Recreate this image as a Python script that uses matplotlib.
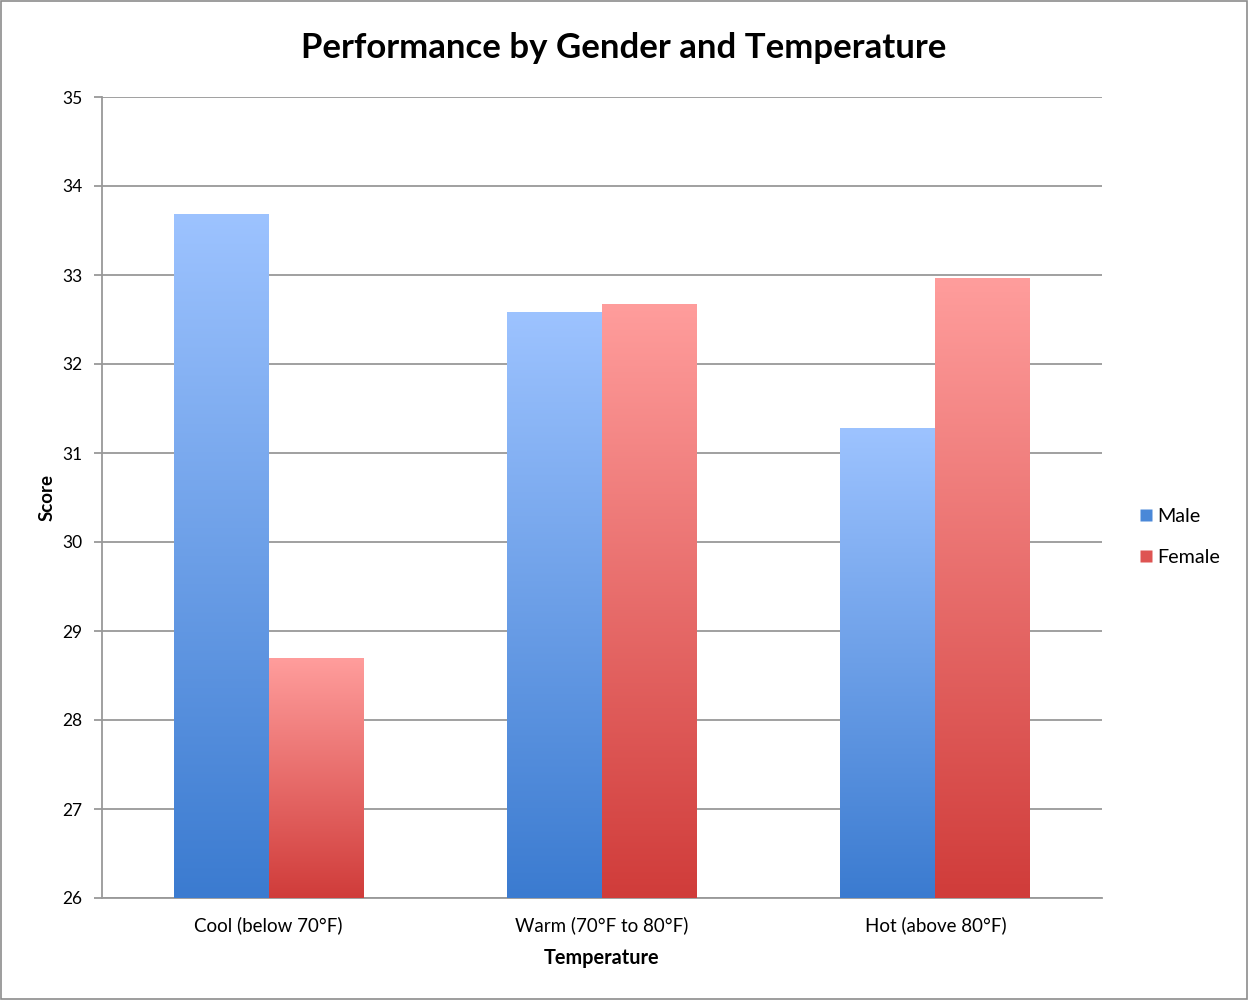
import numpy as np
import matplotlib
matplotlib.use("Agg")
import matplotlib.pyplot as plt
from matplotlib.colors import LinearSegmentedColormap
from matplotlib.patches import Rectangle

categories = ["Cool (below 70°F)", "Warm (70°F to 80°F)", "Hot (above 80°F)"]
series_names = ["Male", "Female"]
male = [33.68, 32.58, 31.28]
female = [28.69, 32.67, 32.96]
y_ticks = [26, 27, 28, 29, 30, 31, 32, 33, 34, 35]

plt.rcParams['font.family'] = ['Lato', 'DejaVu Sans']

fig = plt.figure(figsize=(12.48, 10), dpi=100)
ax = fig.add_axes([102/1248, 1 - 898/1000, 1000/1248, 801/1000])

x = np.arange(len(categories))
w = 0.285
grads = {
    "Male": ("#3b7bd0", "#9dc3ff"),
    "Female": ("#d03c3a", "#ff9d9c"),
}
legend_colors = {"Male": "#4a88d8", "Female": "#de5452"}

handles = []
for i, (name, vals) in enumerate(zip(series_names, [male, female])):
    offs = (i - 0.5) * w
    bars = ax.bar(x + offs, np.array(vals) - 26, width=w, bottom=26,
                  color="none", edgecolor="none", zorder=3)
    cmap = LinearSegmentedColormap.from_list(name, list(grads[name]))
    for b in bars:
        x0, y0 = b.get_x(), b.get_y()
        bw, bh = b.get_width(), b.get_height()
        grad = np.linspace(0, 1, 256).reshape(-1, 1)
        ax.imshow(grad, cmap=cmap, aspect="auto", origin="lower",
                  extent=[x0, x0 + bw, y0, y0 + bh], zorder=3,
                  interpolation="bicubic")
    handles.append(plt.Line2D([], [], marker="s", linestyle="none",
                              markersize=8, markerfacecolor=legend_colors[name],
                              markeredgecolor="none", label=name))

ax.set_xlim(-0.5, 2.5)
ax.set_ylim(26, 35)
ax.set_yticks(y_ticks)
ax.set_yticklabels([str(t) for t in y_ticks], fontsize=12.5)
ax.set_xticks(x)
ax.set_xticklabels(categories, fontsize=13.5)
ax.tick_params(axis="x", length=0, pad=13)
ax.tick_params(axis="y", length=6, color="#999999", width=1.3, pad=8)
ax.grid(axis="y", color="#999999", linewidth=1.3, zorder=0)
ax.set_axisbelow(True)
for s in ["top", "right"]:
    ax.spines[s].set_visible(False)
for s in ["left", "bottom"]:
    ax.spines[s].set_color("#999999")
    ax.spines[s].set_linewidth(1.3)

ax.set_xlabel("Temperature", fontsize=14.3, fontweight="bold", labelpad=10)
ax.set_ylabel("Score", fontsize=13.5, fontweight="bold", labelpad=5)

fig.text(0.5, 1 - 48/1000, "Performance by Gender and Temperature",
         ha="center", va="center", fontsize=25, fontweight="bold")

fig.legend(handles=handles, loc="center left",
           bbox_to_anchor=(1118/1248, 1 - 537/1000), frameon=False,
           fontsize=14.2, handletextpad=0.1, labelspacing=1.2,
           handlelength=1.0)

border = Rectangle((0.001, 0.001), 0.998, 0.998, transform=fig.transFigure,
                   fill=False, edgecolor="#8c8c8c", linewidth=1.2)
fig.patches.append(border)

fig.savefig("out.png", dpi=100)
